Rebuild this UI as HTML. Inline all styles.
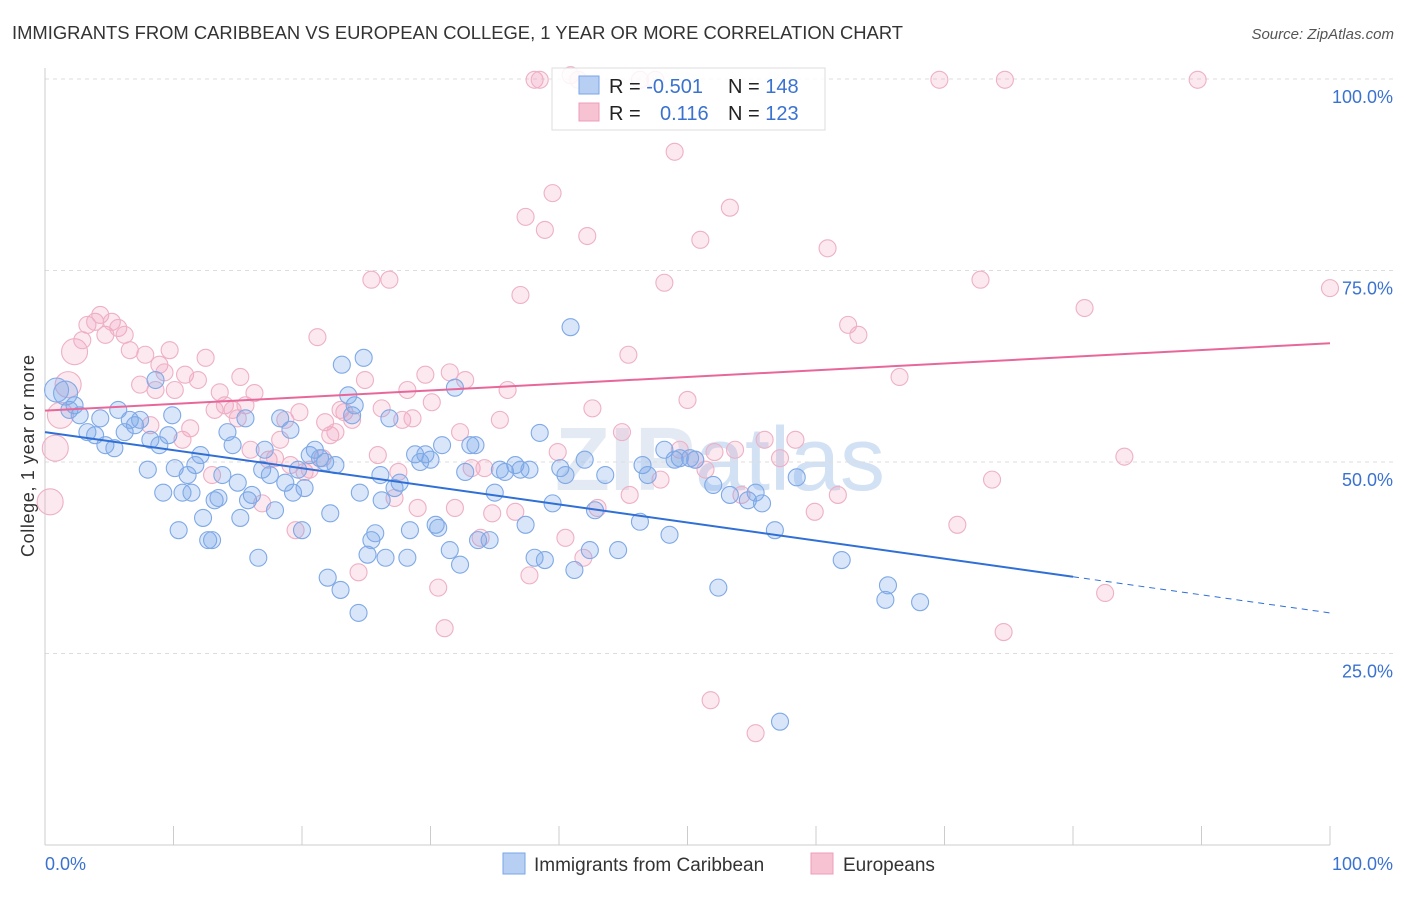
<!DOCTYPE html>
<html><head><meta charset="utf-8"><style>
body{margin:0;background:#fff;font-family:"Liberation Sans",sans-serif;}
svg text{font-family:"Liberation Sans",sans-serif;}
</style></head><body>
<svg id="chart" width="1406" height="892" viewBox="0 0 1406 892" xmlns="http://www.w3.org/2000/svg">
<text x="12" y="39" font-size="18.4" fill="#333" textLength="891">IMMIGRANTS FROM CARIBBEAN VS EUROPEAN COLLEGE, 1 YEAR OR MORE CORRELATION CHART</text>
<text x="1394" y="39" font-size="15" fill="#555" text-anchor="end" font-style="italic">Source: ZipAtlas.com</text>
<text x="720" y="490" font-size="90" fill="#e3eaf4" text-anchor="middle" font-weight="bold">ZIP<tspan font-weight="normal" fill="#d2e1f4">atlas</tspan></text>
<text transform="translate(34,456) rotate(-90)" font-size="18" fill="#333" text-anchor="middle" textLength="202">College, 1 year or more</text>
<g id="grid"></g>
<g id="pts"></g>
<g id="trends"></g>
<g>
<rect x="552" y="68" width="273" height="62" fill="#fff" fill-opacity="0.85" stroke="#ddd"/>
<rect x="579" y="76" width="20" height="18" fill="#b6cff2" stroke="#7aa6e6"/>
<rect x="579" y="103" width="20" height="18" fill="#f7c3d3" stroke="#ec9db8"/>
<text x="609" y="93" font-size="20" fill="#222">R = <tspan fill="#3a72d0">-0.501</tspan></text>
<text x="728" y="93" font-size="20" fill="#222">N = <tspan fill="#3a72d0">148</tspan></text>
<text x="609" y="120" font-size="20" fill="#222">R = <tspan fill="#3a72d0" x="660">0.116</tspan></text>
<text x="728" y="120" font-size="20" fill="#222">N = <tspan fill="#3a72d0">123</tspan></text>
</g>
<g>
<rect x="503" y="853" width="22" height="21" fill="#b6cff2" stroke="#7aa6e6"/>
<text x="534" y="871" font-size="19" fill="#333">Immigrants from Caribbean</text>
<rect x="811" y="853" width="22" height="21" fill="#f7c3d3" stroke="#ec9db8"/>
<text x="843" y="871" font-size="19" fill="#333">Europeans</text>
</g>
</svg>
<script>
const blueX=[0.9,1.6,1.9,2.3,2.7,3.3,3.9,4.3,4.7,5.4,5.7,6.2,6.6,7.0,7.4,8.0,8.2,8.6,8.9,9.2,9.6,9.9,10.1,10.4,10.7,11.1,11.4,11.7,12.1,12.3,12.7,13.0,13.2,13.5,13.8,14.2,14.6,15.0,15.2,15.6,15.8,16.1,16.6,16.9,17.1,17.5,17.9,18.3,18.7,19.1,19.3,19.7,20.0,20.2,20.6,21.0,21.4,21.8,22.2,22.6,22.0,23.0,23.1,23.6,23.9,24.1,24.4,24.5,24.8,25.1,25.4,25.7,26.1,26.2,26.5,26.8,27.2,27.6,28.2,28.4,28.8,29.2,29.6,30.0,30.4,30.6,30.9,31.5,31.9,32.3,32.7,33.1,33.5,33.7,34.6,35.0,35.4,35.8,36.6,37.0,37.4,37.7,38.1,38.5,38.9,39.5,40.1,40.5,40.9,41.2,42.0,42.4,42.8,43.6,44.6,46.3,46.5,46.9,48.2,48.6,49.0,49.4,50.2,50.6,52.0,52.4,53.3,54.7,55.3,55.8,56.8,57.2,58.5,62.0,65.4,65.6,68.1];
const blueY=[59.4,59.0,56.8,57.4,56.1,53.9,53.5,55.7,52.2,51.8,56.8,53.9,55.5,54.8,55.5,49.0,52.9,60.7,52.2,46.0,53.5,56.1,49.2,41.1,46.0,48.3,46.0,49.6,50.9,42.7,39.8,39.8,45.0,45.3,48.3,53.9,52.2,47.3,42.7,55.7,45.0,45.7,37.5,49.0,51.6,48.3,43.7,55.7,47.3,54.2,46.0,49.0,41.1,46.6,50.9,51.6,50.5,50.0,43.3,49.6,34.9,33.3,62.7,58.7,56.1,57.4,30.3,46.0,63.6,37.9,39.8,40.7,48.3,45.0,37.5,55.7,46.6,47.3,37.5,41.1,51.0,50.0,51.0,50.3,41.8,41.4,52.2,38.5,59.7,36.6,48.7,52.2,52.2,39.8,39.8,46.0,49.0,48.7,49.6,49.0,41.8,49.0,37.5,53.8,37.2,44.6,49.2,48.3,67.6,35.9,50.3,38.5,43.7,48.3,38.5,42.2,49.6,48.3,51.6,40.5,50.3,50.5,50.5,50.3,47.0,33.6,45.7,45.0,46.0,44.6,41.1,16.1,48.0,37.2,32.0,33.9,31.7];
const pinkX=[0.4,0.8,1.2,1.8,2.3,2.9,3.3,3.9,4.3,4.7,5.2,5.7,6.2,6.6,7.4,7.8,8.2,8.6,8.9,9.3,9.7,10.1,10.7,10.9,11.3,11.9,12.5,13.0,13.2,13.6,14.0,14.6,15.0,15.2,15.6,16.0,16.3,16.9,17.4,17.9,18.3,18.7,19.1,19.5,19.8,20.2,20.6,21.2,21.6,21.8,22.2,22.6,23.0,23.3,23.9,24.4,24.9,25.4,25.9,26.2,26.8,27.2,27.5,27.8,28.2,28.6,29.0,29.6,30.1,30.6,31.1,31.5,31.9,32.3,32.7,33.2,33.9,34.2,34.8,35.4,36.0,36.6,37.0,37.4,37.7,38.1,38.5,38.9,39.5,39.9,40.5,40.9,41.5,41.9,42.2,42.6,43.0,44.9,45.4,45.5,46.3,47.5,47.9,48.2,49.0,49.4,50.0,50.6,51.0,51.4,51.8,52.1,53.3,53.7,54.2,55.3,56.0,57.2,58.4,59.9,60.9,61.7,62.5,63.3,66.5,69.6,71.0,72.8,73.7,74.6,74.7,80.9,82.5,84.0,89.7,100];
const pinkY=[44.8,51.8,56.1,60.1,64.4,65.9,67.9,68.3,69.2,66.6,68.3,67.5,66.6,64.6,60.1,64.0,54.8,59.4,62.7,61.7,64.6,59.4,52.9,61.4,54.4,60.7,63.6,48.3,56.8,59.1,57.4,56.8,55.7,61.1,57.4,51.6,59.0,44.6,50.3,50.5,52.9,55.5,49.6,41.1,56.5,48.7,49.0,66.3,50.5,55.2,53.5,53.9,56.8,56.5,55.5,35.6,60.7,73.8,50.9,57.0,73.8,45.3,48.7,55.5,59.4,55.7,44.0,61.4,57.8,33.6,28.3,61.7,44.0,53.9,60.7,49.2,40.1,49.2,43.3,55.5,59.4,43.5,71.8,82.0,35.2,99.9,99.9,80.3,85.1,51.3,40.1,100.5,99.9,37.5,79.5,57.0,44.0,53.9,64.0,45.7,99.9,99.9,47.7,73.4,90.5,51.6,58.1,50.3,79.0,49.0,18.9,51.3,83.2,51.6,45.7,14.6,52.9,50.5,52.9,43.5,77.9,45.7,67.9,66.6,61.1,99.9,41.8,73.8,47.7,27.8,99.9,70.1,32.9,50.7,99.9,72.7];
const blueTrend=[53.9,30.3];
const pinkTrend=[56.7,65.5];
const yTicks=[25,50,75,100];
const yTickLabels=["25.0%","50.0%","75.0%","100.0%"];
const xTicks=[0,10,20,30,40,50,60,70,80,90,100];

const NS="http://www.w3.org/2000/svg";
const X0=45,X1=1330,Y0=845,YS=7.66;
const sx=v=>X0+(X1-X0)*v/100;
const sy=v=>Y0-YS*v;
function mk(tag,attrs,parent){const e=document.createElementNS(NS,tag);for(const k in attrs)e.setAttribute(k,attrs[k]);parent.appendChild(e);return e;}
const grid=document.getElementById('grid');
yTicks.forEach((t,i)=>{
  const l=mk('line',{x1:X0,x2:1394,y1:sy(t),y2:sy(t),stroke:'#ddd','stroke-dasharray':'4,4'},grid);
  
  
  const tx=mk('text',{x:1393,y:sy(t)+24,'font-size':18,fill:'#3a72d0','text-anchor':'end'},grid);
  tx.textContent=yTickLabels[i];
  
  
});
const ax=mk('line',{x1:X0,x2:X1,y1:Y0,y2:Y0,stroke:'#ccc'},grid);


const ay=mk('line',{x1:X0,x2:X0,y1:68,y2:Y0,stroke:'#ccc'},grid);


xTicks.forEach(t=>{
  const l=mk('line',{x1:sx(t),x2:sx(t),y1:Y0,y2:Y0-19,stroke:'#ccc'},grid);
  
  
});
const xl0=mk('text',{x:45,y:870,'font-size':18,fill:'#3a72d0'},grid);xl0.textContent='0.0%';


const xl1=mk('text',{x:1393,y:870,'font-size':18,fill:'#3a72d0','text-anchor':'end'},grid);xl1.textContent='100.0%';



const pts=document.getElementById('pts');
pinkX.forEach((x,i)=>{
  const c=mk('circle',{cx:sx(x),cy:sy(pinkY[i]),r:i<5?13:8.5,fill:'rgba(242,160,188,0.24)',stroke:'#eeb0c5','stroke-width':1.1},pts);
  
  
});
blueX.forEach((x,i)=>{
  const c=mk('circle',{cx:sx(x),cy:sy(blueY[i]),r:i<2?12:8.5,fill:'rgba(120,165,232,0.28)',stroke:'#7fa9e6','stroke-width':1.1},pts);
  
  
});
const tr=document.getElementById('trends');
const by=x=>blueTrend[0]+(blueTrend[1]-blueTrend[0])*x/100;
const b1=mk('line',{x1:sx(0),y1:sy(by(0)),x2:sx(80),y2:sy(by(80)),stroke:'#2f6fd6','stroke-width':2},tr);


const b2=mk('line',{x1:sx(80),y1:sy(by(80)),x2:sx(100),y2:sy(by(100)),stroke:'#2f6fd6','stroke-width':1,'stroke-dasharray':'6,5'},tr);


const p1=mk('line',{x1:sx(0),y1:sy(pinkTrend[0]),x2:sx(100),y2:sy(pinkTrend[1]),stroke:'#e8679a','stroke-width':2},tr);


</script>
</body></html>
